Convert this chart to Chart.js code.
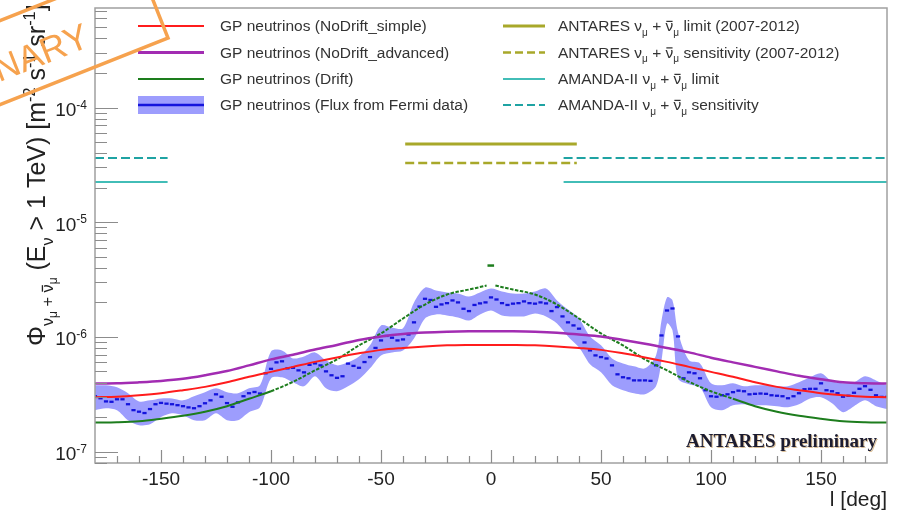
<!DOCTYPE html>
<html>
<head>
<meta charset="utf-8">
<title>GP neutrino flux vs galactic longitude</title>
<script src="https://cdn.jsdelivr.net/npm/chart.js@4"></script>
<style>
    html, body { margin: 0; padding: 0; background: #ffffff; }
    #wrap { width: 899px; height: 511px; }
</style>
</head>
<body>
<div id="wrap"><canvas id="fluxChart" width="899" height="511"></canvas></div>
<script>
// ---- data (flux in m^-2 s^-1 sr^-1) ----

const xTicks = [-150, -100, -50, 0, 50, 100, 150];
const yTicks = [1e-7, 1e-6, 1e-5, 1e-4];
const yTickExp = ['-7', '-6', '-5', '-4'];

// model curves, every 10 deg
const modelL = [-180, -170, -160, -150, -140, -130, -120, -110, -100, -90, -80, -70, -60, -50, -40, -30, -20, -10, 0,
    10, 20, 30, 40, 50, 60, 70, 80, 90, 100, 110, 120, 130, 140, 150, 160, 170, 180];

const noDriftSimple = [2.98e-7, 3.01e-7, 3.10e-7, 3.23e-7, 3.43e-7, 3.67e-7, 4.02e-7, 4.49e-7, 4.96e-7, 5.48e-7,
    6.06e-7, 6.63e-7, 7.19e-7, 7.71e-7, 8.02e-7, 8.27e-7, 8.44e-7, 8.50e-7, 8.52e-7,
    8.50e-7, 8.44e-7, 8.27e-7, 8.02e-7, 7.71e-7, 7.19e-7, 6.63e-7, 6.06e-7, 5.48e-7, 4.96e-7,
    4.49e-7, 4.02e-7, 3.67e-7, 3.43e-7, 3.23e-7, 3.10e-7, 3.01e-7, 2.98e-7];

const noDriftAdvanced = [3.92e-7, 3.94e-7, 4.02e-7, 4.13e-7, 4.31e-7, 4.63e-7, 5.04e-7, 5.65e-7, 6.37e-7, 7.00e-7,
    7.78e-7, 8.52e-7, 9.42e-7, 1.01e-6, 1.062e-6, 1.094e-6, 1.112e-6, 1.121e-6, 1.123e-6,
    1.121e-6, 1.112e-6, 1.090e-6, 1.051e-6, 1.01e-6, 9.42e-7, 8.73e-7, 8.02e-7, 7.33e-7, 6.59e-7,
    6.00e-7, 5.48e-7, 5.01e-7, 4.58e-7, 4.27e-7, 4.02e-7, 3.94e-7, 3.92e-7];

// drift model has an odd bin at l = 0
const driftL = [-180, -170, -160, -150, -140, -130, -120, -110, -100, -90, -80, -70, -60, -50, -40, -30, -20, -10, -2, 0, 2,
    10, 20, 30, 40, 50, 60, 70, 80, 90, 100, 110, 120, 130, 140, 150, 160, 170, 180];
const driftFlux = [1.794e-7, 1.805e-7, 1.841e-7, 1.936e-7, 2.056e-7, 2.228e-7, 2.487e-7, 2.89e-7, 3.36e-7, 4.06e-7,
    5.11e-7, 6.37e-7, 8.44e-7, 1.072e-6, 1.448e-6, 1.917e-6, 2.342e-6, 2.588e-6, 2.804e-6, null, 2.804e-6,
    2.588e-6, 2.342e-6, 1.917e-6, 1.448e-6, 1.072e-6, 8.44e-7, 6.37e-7, 5.11e-7, 4.06e-7, 3.36e-7,
    2.89e-7, 2.487e-7, 2.228e-7, 2.056e-7, 1.936e-7, 1.841e-7, 1.805e-7, 1.794e-7];
const driftCentreL = [-1.6, 1.4];
const driftCentreFlux = [4.19e-6, 4.19e-6];

// flux from Fermi data, 2.5 deg bins
const fermiL = [
    -180, -177.5, -175, -172.5, -170, -167.5, -165, -162.5, -160, -157.5, -155, -152.5,
    -150, -147.5, -145, -142.5, -140, -137.5, -135, -132.5, -130, -127.5, -125, -122.5,
    -120, -117.5, -115, -112.5, -110, -107.5, -105, -102.5, -100, -97.5, -95, -92.5,
    -90, -87.5, -85, -82.5, -80, -77.5, -75, -72.5, -70, -67.5, -65, -62.5,
    -60, -57.5, -55, -52.5, -50, -47.5, -45, -42.5, -40, -37.5, -35, -32.5,
    -30, -27.5, -25, -22.5, -20, -17.5, -15, -12.5, -10, -7.5, -5, -2.5,
    0, 2.5, 5, 7.5, 10, 12.5, 15, 17.5, 20, 22.5, 25, 27.5,
    30, 32.5, 35, 37.5, 40, 42.5, 45, 47.5, 50, 52.5, 55, 57.5,
    60, 62.5, 65, 67.5, 70, 72.5, 75, 77.5, 80, 82.5, 85, 87.5,
    90, 92.5, 95, 97.5, 100, 102.5, 105, 107.5, 110, 112.5, 115, 117.5,
    120, 122.5, 125, 127.5, 130, 132.5, 135, 137.5, 140, 142.5, 145, 147.5,
    150, 152.5, 155, 157.5, 160, 162.5, 165, 167.5, 170, 172.5, 175, 177.5,
    180];
const fermiFlux = [
    3.04e-7, 2.92e-7, 2.74e-7, 2.72e-7, 2.86e-7, 2.86e-7, 2.59e-7, 2.30e-7, 2.23e-7, 2.17e-7, 2.35e-7, 2.59e-7,
    2.66e-7, 2.62e-7, 2.59e-7, 2.54e-7, 2.49e-7, 2.43e-7, 2.39e-7, 2.49e-7, 2.64e-7, 2.80e-7, 3.16e-7, 3.01e-7,
    2.65e-7, 2.46e-7, 2.69e-7, 3.04e-7, 3.23e-7, 3.31e-7, 3.21e-7, 4.82e-7, 5.27e-7, 6.00e-7, 6.13e-7, 5.32e-7,
    5.38e-7, 5.11e-7, 4.91e-7, 5.71e-7, 5.88e-7, 5.65e-7, 5.01e-7, 4.63e-7, 4.40e-7, 4.54e-7, 5.85e-7, 5.59e-7,
    5.38e-7, 6.04e-7, 6.67e-7, 8.02e-7, 9.32e-7, 1.02e-6, 9.84e-7, 9.32e-7, 9.51e-7, 1.05e-6, 1.34e-6, 1.84e-6,
    2.15e-6, 2.10e-6, 1.83e-6, 1.92e-6, 1.97e-6, 2.08e-6, 2.00e-6, 1.76e-6, 1.68e-6, 1.90e-6, 1.96e-6, 2.00e-6,
    2.21e-6, 2.12e-6, 1.97e-6, 1.90e-6, 1.95e-6, 1.97e-6, 2.04e-6, 1.97e-6, 1.95e-6, 2.00e-6, 1.96e-6, 1.68e-6,
    1.82e-6, 1.51e-6, 1.34e-6, 1.26e-6, 1.18e-6, 8.95e-7, 7.63e-7, 6.90e-7, 6.67e-7, 6.49e-7, 5.65e-7, 4.72e-7,
    4.45e-7, 4.36e-7, 4.18e-7, 4.18e-7, 4.18e-7, 4.14e-7, 5.65e-7, 1.03e-6, 1.70e-6, 1.77e-6, 1.01e-6, 4.36e-7,
    4.91e-7, 4.82e-7, 4.36e-7, 3.43e-7, 3.04e-7, 3.01e-7, 3.10e-7, 3.16e-7, 3.30e-7, 3.40e-7, 3.36e-7, 3.16e-7,
    3.19e-7, 3.21e-7, 3.19e-7, 3.10e-7, 3.07e-7, 3.04e-7, 2.92e-7, 3.04e-7, 3.23e-7, 3.50e-7, 3.53e-7, 3.53e-7,
    3.94e-7, 3.43e-7, 3.36e-7, 3.23e-7, 3.01e-7, 3.07e-7, 3.26e-7, 3.53e-7, 3.72e-7, 3.46e-7, 3.10e-7, 3.00e-7,
    3.00e-7];

// uncertainty band of the Fermi-based flux
const bandL = [-180, -175, -170, -165, -160, -155, -150, -145, -140, -135, -130, -125, -120, -115, -110, -105,
    -100, -95, -90, -85, -80, -75, -70, -65, -60, -55, -50, -45, -40, -35, -30, -25, -20, -15, -10, -5,
    0, 5, 10, 15, 20, 25, 30, 35, 40, 45, 50, 55, 60, 65, 70, 75, 77.5, 80, 82.5, 85,
    90, 95, 100, 105, 110, 115, 120, 125, 130, 135, 140, 145, 150, 155, 160, 165, 170, 175, 180];
const bandHigh = [3.79e-7, 3.79e-7, 3.64e-7, 3.23e-7, 2.74e-7, 2.80e-7, 2.91e-7, 2.91e-7, 2.80e-7, 3.04e-7, 3.30e-7, 3.57e-7, 3.30e-7, 3.23e-7, 3.57e-7, 3.79e-7,
    7.48e-7, 7.63e-7, 6.50e-7, 6.76e-7, 7.33e-7, 6.25e-7, 5.65e-7, 6.01e-7, 6.76e-7, 8.44e-7, 1.26e-6, 1.21e-6, 1.19e-6, 2.00e-6, 2.69e-6, 2.54e-6, 2.44e-6, 2.39e-6, 2.25e-6, 2.44e-6,
    2.64e-6, 2.49e-6, 2.39e-6, 2.39e-6, 2.49e-6, 2.64e-6, 2.08e-6, 1.73e-6, 1.45e-6, 1.01e-6, 8.44e-7, 6.50e-7, 5.88e-7, 5.54e-7, 5.32e-7, 6.90e-7, 1.39e-6, 2.21e-6, 2.08e-6, 1.10e-6,
    6.25e-7, 5.88e-7, 3.94e-7, 3.79e-7, 3.94e-7, 3.71e-7, 3.79e-7, 3.79e-7, 3.71e-7, 3.71e-7, 4.02e-7, 4.44e-7, 4.82e-7, 4.10e-7, 3.94e-7, 4.02e-7, 4.54e-7, 4.18e-7, 3.79e-7];
const bandLow = [2.30e-7, 2.39e-7, 2.30e-7, 1.88e-7, 1.70e-7, 1.73e-7, 2.00e-7, 2.16e-7, 2.08e-7, 1.88e-7, 1.88e-7, 2.16e-7, 1.88e-7, 1.88e-7, 2.21e-7, 2.44e-7,
    4.35e-7, 4.44e-7, 4.02e-7, 3.71e-7, 4.54e-7, 3.57e-7, 3.36e-7, 3.71e-7, 4.27e-7, 5.32e-7, 6.90e-7, 7.33e-7, 7.63e-7, 9.70e-7, 1.45e-6, 1.57e-6, 1.54e-6, 1.48e-6, 1.39e-6, 1.57e-6,
    1.70e-6, 1.54e-6, 1.51e-6, 1.51e-6, 1.60e-6, 1.51e-6, 1.31e-6, 1.01e-6, 8.11e-7, 5.77e-7, 4.91e-7, 3.79e-7, 3.43e-7, 3.23e-7, 3.16e-7, 3.71e-7, 6.25e-7, 1.31e-6, 1.14e-6, 4.35e-7,
    3.87e-7, 3.64e-7, 2.44e-7, 2.30e-7, 2.54e-7, 2.59e-7, 2.54e-7, 2.54e-7, 2.49e-7, 2.44e-7, 2.59e-7, 2.91e-7, 2.98e-7, 2.64e-7, 2.21e-7, 2.49e-7, 2.80e-7, 2.49e-7, 2.35e-7];

// upper limits / sensitivities (flat over the analysed longitude ranges)
const antaresRange = [-39, 39];
const antaresLimit = 4.81e-5;
const antaresSens = 3.28e-5;
const amandaRanges = [[-180, -147], [33, 180]];
const amandaLimit = 2.24e-5;
const amandaSens = 3.63e-5;

// ---- styling ----
const FONT = '"Liberation Sans", Arial, sans-serif';
const C = {
    red: '#ff1c1c',
    purple: '#a22cb2',
    green: '#1d7d1d',
    blue: '#1414dc',
    band: '#9d9dfd',
    olive: '#a8a82a',
    teal: '#42bdb7',
    tealDark: '#1fa3a3',
    text: '#333333',
    axis: '#a0a0a0',
    stamp: '#f6a24e'
};

function pts(xs, ys) {
    return xs.map((x, i) => ({ x: x, y: ys[i] }));
}

function flatLine(ranges, value) {
    const out = [];
    ranges.forEach((r, i) => {
        if (i > 0) out.push({ x: (ranges[i - 1][1] + r[0]) / 2, y: null });
        out.push({ x: r[0], y: value }, { x: r[1], y: value });
    });
    return out;
}

// draw a row of text pieces with sub/superscripts and overbars
function drawRuns(ctx, x, y, runs, size) {
    runs.forEach(r => {
        const fs = size * (r.scale || 1);
        ctx.font = fs + 'px ' + FONT;
        const yy = y + size * (r.shift || 0);
        ctx.fillText(r.t, x, yy);
        const w = ctx.measureText(r.t).width;
        if (r.bar) ctx.fillRect(x + w * 0.1, yy - fs * 0.66, w * 0.8, Math.max(1, fs * 0.08));
        x += w;
    });
    return x;
}

const SUB = { scale: 0.65, shift: 0.3 };
const SUBSUB = { scale: 0.48, shift: 0.48 };
const SUP = { scale: 0.65, shift: -0.42 };
const nuRuns = [
    Object.assign({ t: 'μ' }, SUB), { t: ' + ' }, { t: 'ν', bar: true }, Object.assign({ t: 'μ' }, SUB)
];

const legendEntries = [
    { col: 0, row: 0, kind: 'line', color: C.red, width: 2, runs: [{ t: 'GP neutrinos (NoDrift_simple)' }] },
    { col: 0, row: 1, kind: 'line', color: C.purple, width: 3, runs: [{ t: 'GP neutrinos (NoDrift_advanced)' }] },
    { col: 0, row: 2, kind: 'line', color: C.green, width: 2, runs: [{ t: 'GP neutrinos (Drift)' }] },
    { col: 0, row: 3, kind: 'band', color: C.blue, width: 2.5, runs: [{ t: 'GP neutrinos (Flux from Fermi data)' }] },
    { col: 1, row: 0, kind: 'line', color: C.olive, width: 3, runs: [{ t: 'ANTARES ν' }].concat(nuRuns, [{ t: ' limit (2007-2012)' }]) },
    { col: 1, row: 1, kind: 'line', color: C.olive, width: 2.5, dash: [8, 4], runs: [{ t: 'ANTARES ν' }].concat(nuRuns, [{ t: ' sensitivity (2007-2012)' }]) },
    { col: 1, row: 2, kind: 'line', color: C.teal, width: 2, runs: [{ t: 'AMANDA-II ν' }].concat(nuRuns, [{ t: ' limit' }]) },
    { col: 1, row: 3, kind: 'line', color: C.tealDark, width: 2, dash: [8, 4], runs: [{ t: 'AMANDA-II ν' }].concat(nuRuns, [{ t: ' sensitivity' }]) }
];
const legendCols = [{ x0: 138, x1: 204, tx: 220 }, { x0: 503, x1: 545, tx: 558 }];
const legendRows = [26, 52.5, 79, 105];

const yTitleRuns = [
    { t: 'Φ' }, Object.assign({ t: 'ν' }, SUB), Object.assign({ t: 'μ' }, SUBSUB),
    Object.assign({ t: ' + ' }, SUB), Object.assign({ t: 'ν', bar: true }, SUB), Object.assign({ t: 'μ' }, SUBSUB),
    { t: ' (E' }, Object.assign({ t: 'ν' }, SUB), { t: ' > 1 TeV) [m' }, Object.assign({ t: '-2' }, SUP),
    { t: ' s' }, Object.assign({ t: '-1' }, SUP), { t: ' sr' }, Object.assign({ t: '-1' }, SUP), { t: ']' }
];

// ROOT-like frame, inner ticks, labels, legend and stamp
const rootDecor = {
    id: 'rootDecor',
    afterDraw(chart) {
        const ctx = chart.ctx;
        const a = chart.chartArea;
        const xs = chart.scales.x;
        const ys = chart.scales.y;
        ctx.save();

        // frame
        ctx.strokeStyle = C.axis;
        ctx.lineWidth = 1.5;
        ctx.strokeRect(a.left, a.top, a.right - a.left, a.bottom - a.top);

        // x ticks, pointing up into the frame
        ctx.lineWidth = 1.2;
        ctx.strokeStyle = '#8c8c8c';
        ctx.beginPath();
        for (let l = -170; l <= 170; l += 10) {
            const px = Math.round(xs.getPixelForValue(l)) + 0.5;
            const len = l % 50 === 0 ? 13 : 7;
            ctx.moveTo(px, a.bottom);
            ctx.lineTo(px, a.bottom - len);
        }
        // y ticks, log decades with 2..9 minors
        for (let e = -8; e <= -3; e++) {
            for (let m = 1; m <= 9; m++) {
                const v = m * Math.pow(10, e);
                if (v < ys.min || v > ys.max) continue;
                const py = Math.round(ys.getPixelForValue(v)) + 0.5;
                ctx.moveTo(a.left, py);
                ctx.lineTo(a.left + (m === 1 ? 23 : 12), py);
            }
        }
        ctx.stroke();

        // y tick labels 10^n
        ctx.fillStyle = '#222222';
        ctx.textBaseline = 'alphabetic';
        yTicks.forEach((v, i) => {
            const py = ys.getPixelForValue(v);
            ctx.font = '12px ' + FONT;
            const ew = ctx.measureText(yTickExp[i]).width;
            ctx.textAlign = 'left';
            ctx.fillText(yTickExp[i], 87 - ew, py + 1);
            ctx.font = '19px ' + FONT;
            ctx.textAlign = 'right';
            ctx.fillText('10', 87 - ew, py + 8.5);
        });

        // axis titles
        ctx.textAlign = 'right';
        ctx.font = '21px ' + FONT;
        ctx.fillText('l [deg]', a.right, 506);

        ctx.save();
        ctx.translate(45, 346);
        ctx.rotate(-Math.PI / 2);
        ctx.textAlign = 'left';
        ctx.fillStyle = '#222222';
        drawRuns(ctx, 0, 0, yTitleRuns, 25);
        ctx.restore();

        // legend
        ctx.textAlign = 'left';
        legendEntries.forEach(en => {
            const col = legendCols[en.col];
            const y = legendRows[en.row];
            if (en.kind === 'band') {
                ctx.fillStyle = C.band;
                ctx.fillRect(col.x0, y - 9, col.x1 - col.x0, 18);
            }
            ctx.strokeStyle = en.color;
            ctx.lineWidth = en.width;
            ctx.setLineDash(en.dash || []);
            ctx.beginPath();
            ctx.moveTo(col.x0, y);
            ctx.lineTo(col.x1, y);
            ctx.stroke();
            ctx.setLineDash([]);
            ctx.fillStyle = C.text;
            drawRuns(ctx, col.tx, y + 5, en.runs, 15.5);
        });

        // experiment label
        ctx.textAlign = 'right';
        ctx.font = 'bold 19px "Liberation Serif", "Times New Roman", serif';
        ctx.fillStyle = 'rgba(190, 140, 70, 0.55)';
        ctx.fillText('ANTARES preliminary', 878, 448);
        ctx.fillStyle = '#1c1c30';
        ctx.fillText('ANTARES preliminary', 877, 447);

        // PRELIMINARY stamp, mostly outside the canvas
        ctx.translate(168, 38);
        ctx.rotate(-0.377);
        ctx.strokeStyle = C.stamp;
        ctx.lineWidth = 3.5;
        ctx.strokeRect(-560, -78, 560, 78);
        ctx.fillStyle = C.stamp;
        ctx.font = '36px ' + FONT;
        ctx.textAlign = 'right';
        ctx.fillText('PRELIMINARY', -74, -21);

        ctx.restore();
    }
};

Chart.defaults.font.family = FONT;

const canvas = document.getElementById('fluxChart');
const fluxChart = new Chart(canvas.getContext('2d'), {
    type: 'line',
    data: {
        datasets: [
            {
                label: 'Fermi band high',
                data: pts(bandL, bandHigh),
                borderWidth: 0,
                pointRadius: 0,
                backgroundColor: C.band,
                fill: '+1',
                tension: 0.3,
                order: 10
            },
            {
                label: 'Fermi band low',
                data: pts(bandL, bandLow),
                borderWidth: 0,
                pointRadius: 0,
                fill: false,
                tension: 0.3,
                order: 10
            },
            {
                label: 'GP neutrinos (Flux from Fermi data)',
                data: pts(fermiL, fermiFlux),
                showLine: false,
                pointStyle: 'line',
                pointRadius: 2.1,
                pointBorderWidth: 2.3,
                borderColor: C.blue,
                pointBorderColor: C.blue,
                order: 5
            },
            {
                label: 'GP neutrinos (Drift)',
                data: pts(driftL, driftFlux),
                borderColor: C.green,
                borderWidth: 2,
                pointRadius: 0,
                cubicInterpolationMode: 'monotone',
                segment: {
                    // binned look where the curve is steep
                    borderDash: c => (Math.abs(c.p0.parsed.x) < 105 ? [3.5, 1.5] : undefined)
                },
                order: 3
            },
            {
                label: 'Drift centre bin',
                data: pts(driftCentreL, driftCentreFlux),
                borderColor: C.green,
                borderWidth: 2.5,
                pointRadius: 0,
                order: 3
            },
            {
                label: 'GP neutrinos (NoDrift_simple)',
                data: pts(modelL, noDriftSimple),
                borderColor: C.red,
                borderWidth: 2,
                pointRadius: 0,
                cubicInterpolationMode: 'monotone',
                order: 2
            },
            {
                label: 'GP neutrinos (NoDrift_advanced)',
                data: pts(modelL, noDriftAdvanced),
                borderColor: C.purple,
                borderWidth: 2.5,
                pointRadius: 0,
                cubicInterpolationMode: 'monotone',
                order: 2
            },
            {
                label: 'ANTARES limit',
                data: flatLine([antaresRange], antaresLimit),
                borderColor: C.olive,
                borderWidth: 3,
                pointRadius: 0,
                order: 1
            },
            {
                label: 'ANTARES sensitivity',
                data: flatLine([antaresRange], antaresSens),
                borderColor: C.olive,
                borderWidth: 2.5,
                borderDash: [9, 4],
                pointRadius: 0,
                order: 1
            },
            {
                label: 'AMANDA-II limit',
                data: flatLine(amandaRanges, amandaLimit),
                borderColor: C.teal,
                borderWidth: 2,
                pointRadius: 0,
                order: 1
            },
            {
                label: 'AMANDA-II sensitivity',
                data: flatLine(amandaRanges, amandaSens),
                borderColor: C.tealDark,
                borderWidth: 2,
                borderDash: [9, 4],
                pointRadius: 0,
                order: 1
            }
        ]
    },
    options: {
        responsive: false,
        animation: false,
        devicePixelRatio: 1,
        layout: { padding: { left: 0, right: 12, top: 8, bottom: 0 } },
        plugins: {
            legend: { display: false },
            tooltip: { enabled: false }
        },
        scales: {
            x: {
                type: 'linear',
                min: -180,
                max: 180,
                afterBuildTicks: s => { s.ticks = xTicks.map(v => ({ value: v })); },
                afterFit: s => { s.height = 48; },
                grid: { display: false, drawTicks: false },
                border: { display: false },
                ticks: { color: '#222222', font: { size: 19 }, padding: 5, maxRotation: 0, autoSkip: false }
            },
            y: {
                type: 'logarithmic',
                min: 7.96e-8,
                max: 7.37e-4,
                afterBuildTicks: s => { s.ticks = yTicks.map(v => ({ value: v })); },
                afterFit: s => { s.width = 95; },
                grid: { display: false, drawTicks: false },
                border: { display: false },
                ticks: { display: false }
            }
        }
    },
    plugins: [rootDecor]
});
</script>
</body>
</html>
